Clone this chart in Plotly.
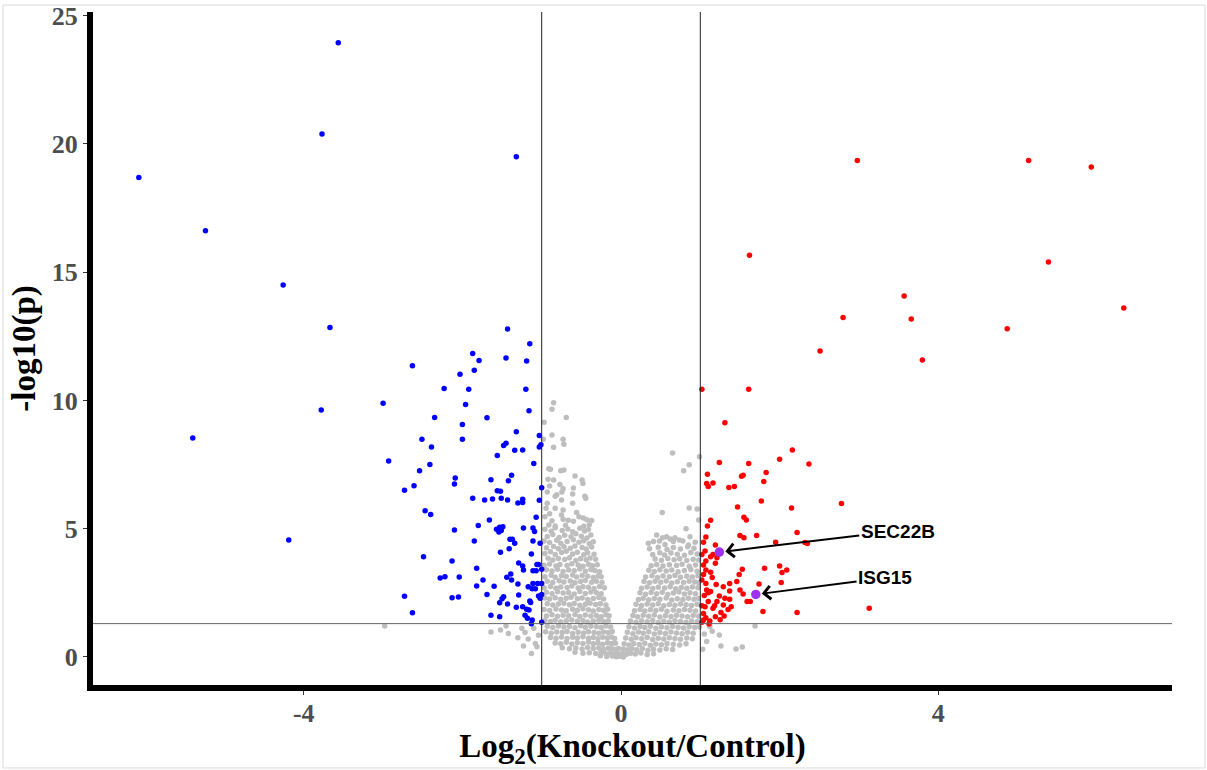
import plotly.graph_objects as go

# ---------------- data ----------------
fc_cut = 1.0          # |log2 FC| cut-off
p_cut_log = 1.30103   # -log10(0.05)

blue_x = [-3.565, -3.77, -1.32, -6.08, -5.24, -4.26, -3.67, -1.43, -5.40, -4.19, -3.78,
          -1.15, -1.87, -1.79, -1.45, -1.19, -2.63, -1.85, -2.03, -2.23, -1.92, -1.20, -3.00,
          -1.96, -1.16, -2.35, -1.69, -2.00, -1.32, -1.03, -2.51, -2.00, -1.01, -1.45, -1.48,
          -2.39, -1.34, -1.24, -1.03, -1.56, -2.93, -1.10, -2.41, -2.54, -1.38, -2.09, -1.64,
          -1.42, -2.10, -2.61, -1.00, -2.73, -1.56, -1.52, -1.87, -1.72, -1.62, -1.51, -1.43,
          -1.30, -1.24, -1.24, -1.03, -2.47, -2.40, -1.07, -1.66, -1.80, -2.10, -1.57, -1.53,
          -1.49, -1.54, -1.51, -1.23, -1.11, -1.09, -1.40, -1.37, -1.34, -1.85, -1.11, -1.02,
          -1.41, -1.52, -1.13, -2.49, -2.13, -1.29, -1.24, -1.06, -1.04, -1.82, -1.23, -1.11,
          -1.07, -1.00, -1.39, -1.44, -2.28, -2.22, -2.04, -1.38, -1.74, -1.82, -1.60, -1.30,
          -1.11, -1.05, -1.00, -1.17, -1.12, -1.08, -1.69, -2.73, -2.13, -2.05, -1.48, -1.50,
          -1.29, -1.04, -1.00, -1.02, -1.53, -1.43, -1.32, -1.24, -1.15, -1.14, -1.19, -1.16,
          -2.63, -1.64, -1.53, -1.21, -1.18, -1.12, -1.13, -1.00]
blue_y = [23.95, 20.39, 19.50, 18.69, 16.62, 14.50, 12.85, 12.79, 8.54, 4.56, 9.63,
          12.21, 11.83, 11.56, 11.66, 11.54, 11.35, 11.18, 11.02, 10.47, 10.44, 10.44, 9.89,
          9.84, 9.60, 9.34, 9.33, 9.06, 8.78, 8.64, 8.49, 8.49, 8.27, 8.33, 8.25,
          8.19, 8.06, 8.07, 8.19, 7.86, 7.64, 7.54, 7.50, 7.26, 7.09, 6.98, 6.91,
          6.87, 6.74, 6.68, 6.60, 6.50, 6.48, 6.46, 6.19, 6.12, 6.16, 6.19, 6.12,
          6.00, 6.15, 6.02, 6.11, 5.70, 5.56, 5.45, 5.34, 5.13, 4.95, 4.98, 5.06,
          5.08, 4.87, 4.93, 5.03, 5.03, 4.89, 4.59, 4.59, 4.43, 4.52, 4.52, 4.43,
          4.22, 4.08, 4.02, 3.91, 3.74, 3.66, 3.55, 3.61, 3.61, 3.46, 3.39, 3.36,
          3.36, 3.42, 3.24, 3.11, 3.08, 3.13, 3.12, 3.00, 3.00, 2.77, 2.76, 2.85,
          2.87, 2.87, 2.87, 2.74, 2.66, 2.66, 2.44, 2.37, 2.31, 2.34, 2.35, 2.27,
          2.42, 2.38, 2.44, 2.29, 2.11, 2.07, 1.94, 1.96, 2.18, 2.12, 1.86, 1.83,
          1.72, 1.63, 1.57, 1.63, 1.51, 1.44, 1.30, 1.35]

red_x = [2.98, 5.14, 5.93, 1.62, 5.39, 3.57, 2.80, 3.66, 6.34, 4.87, 2.51, 3.80,
         1.02, 1.61, 1.31, 2.16, 2.00, 2.37, 1.24, 1.61, 1.83, 1.09, 1.52, 1.54, 1.08, 1.16,
         1.10, 1.36, 1.43, 1.80, 1.77, 2.78, 1.47, 2.15, 1.55, 1.58, 1.13, 1.09, 2.22, 1.50,
         1.55, 1.71, 1.07, 2.32, 2.35, 1.04, 1.19, 1.95, 1.06, 1.16, 1.07, 1.21, 1.13, 1.04,
         1.07, 1.13, 1.04, 1.19, 1.53, 1.49, 1.81, 2.00, 2.09, 2.03, 1.46, 1.37, 1.29, 2.02,
         1.74, 1.07, 1.20, 1.08, 1.13, 1.37, 1.31, 1.37, 1.50, 1.54, 1.24, 1.21, 1.59, 1.63,
         1.29, 1.39, 1.10, 1.06, 1.16, 1.79, 2.22, 3.13, 1.26, 1.19, 1.07, 1.11, 1.04, 1.04,
         1.02, 1.05, 1.02, 1.10, 1.15, 1.02, 1.12, 1.25, 1.02, 1.18, 1.30, 1.35]
red_y = [19.36, 19.36, 19.10, 15.66, 15.40, 14.07, 13.24, 13.18, 13.61, 12.80, 11.93, 11.58,
         10.44, 10.44, 9.13, 8.07, 7.71, 7.52, 7.58, 7.54, 7.19, 7.12, 7.05, 7.09, 6.76, 6.78,
         6.65, 6.61, 6.65, 6.84, 6.08, 5.98, 5.85, 5.81, 5.45, 5.34, 5.33, 5.11, 4.85, 4.74,
         4.65, 4.74, 4.68, 4.46, 4.42, 4.47, 4.37, 4.47, 4.13, 4.00, 3.74, 3.87, 3.91, 3.59,
         3.39, 3.30, 3.22, 3.65, 3.42, 3.22, 3.46, 3.55, 3.39, 3.29, 2.94, 2.87, 2.74, 2.90,
         2.85, 2.87, 2.83, 2.61, 2.55, 2.57, 2.29, 2.25, 2.61, 2.46, 2.38, 2.16, 2.16, 2.16,
         2.03, 1.96, 2.16, 1.96, 1.90, 1.77, 1.73, 1.90, 1.73, 1.57, 1.53, 1.29, 1.70, 1.44,
         3.00, 2.40, 2.00, 2.50, 3.10, 4.00, 1.40, 1.45, 1.35, 2.00, 1.60, 1.85]

# highlighted genes
hl_names = ["SEC22B", "ISG15"]
hl_x = [1.24, 1.70]
hl_y = [4.09, 2.44]
hl_label_x = [3.49, 3.33]
hl_label_y = [4.91, 3.08]

# non-significant genes, left arm of the cloud (x < 0)
gray_left_x = [
    -0.96, -0.88, -0.83, -0.74, -0.67, -0.61, -0.52, -0.46, -0.41,
    -0.93, -0.86, -0.78, -0.71, -0.63, -0.57, -0.50, -0.43, -0.38,
    -0.97, -0.90, -0.81, -0.76, -0.68, -0.60, -0.53, -0.47, -0.40, -0.35,
    -0.94, -0.85, -0.79, -0.72, -0.64, -0.58, -0.49, -0.44, -0.37,
    -0.96, -0.89, -0.83, -0.75, -0.69, -0.61, -0.55, -0.47, -0.42, -0.34,
    -0.92, -0.86, -0.79, -0.71, -0.65, -0.57, -0.51, -0.44, -0.39, -0.32,
    -0.97, -0.90, -0.82, -0.77, -0.68, -0.62, -0.54, -0.48, -0.41, -0.36, -0.30,
    -0.94, -0.87, -0.80, -0.73, -0.66, -0.59, -0.52, -0.45, -0.38, -0.33, -0.27,
    -0.96, -0.88, -0.83, -0.75, -0.69, -0.61, -0.56, -0.49, -0.42, -0.35, -0.29, -0.25,
    -0.93, -0.86, -0.78, -0.72, -0.64, -0.58, -0.51, -0.45, -0.37, -0.31, -0.24,
    -0.97, -0.89, -0.82, -0.76, -0.68, -0.62, -0.54, -0.48, -0.41, -0.34, -0.27, -0.21,
    -0.94, -0.87, -0.80, -0.73, -0.66, -0.59, -0.52, -0.45, -0.38, -0.31, -0.25,
    -0.96, -0.90, -0.83, -0.76, -0.69, -0.63, -0.55, -0.49, -0.42, -0.35, -0.28, -0.22,
    -0.93, -0.86, -0.79, -0.72, -0.65, -0.59, -0.52, -0.45, -0.39, -0.32, -0.26, -0.19,
    -0.97, -0.90, -0.82, -0.75, -0.69, -0.61, -0.55, -0.48, -0.41, -0.35, -0.28, -0.22, -0.17,
    -0.94, -0.87, -0.80, -0.73, -0.66, -0.58, -0.52, -0.45, -0.38, -0.31, -0.25, -0.19, -0.15,
    -0.96, -0.89, -0.83, -0.76, -0.69, -0.62, -0.55, -0.48, -0.42, -0.35, -0.28, -0.22, -0.16,
    -0.93, -0.86, -0.79, -0.72, -0.65, -0.58, -0.51, -0.45, -0.38, -0.31, -0.25, -0.19, -0.13,
    -0.95, -0.88, -0.81, -0.74, -0.68, -0.61, -0.54, -0.47, -0.41, -0.34, -0.28, -0.22, -0.16, -0.11,
    -0.89, -0.82, -0.75, -0.68, -0.61, -0.55, -0.48, -0.41, -0.35, -0.29, -0.23, -0.17, -0.12, -0.08,
    -0.83, -0.76, -0.69, -0.62, -0.55, -0.48, -0.41, -0.35, -0.29, -0.23, -0.17, -0.12, -0.07,
    -0.74, -0.65, -0.57, -0.49, -0.42, -0.35, -0.28, -0.22, -0.16, -0.11, -0.06, -0.03,
    -0.58, -0.48, -0.40, -0.32, -0.25, -0.19, -0.13, -0.08, -0.04, 0.00,
    -0.26, -0.18, -0.11, -0.06, -0.02, 0.03,
]
gray_left_y = [
    4.98, 4.90, 5.04, 4.93, 4.99, 4.88, 5.02, 4.91, 4.97,
    4.70, 4.78, 4.66, 4.75, 4.69, 4.80, 4.71, 4.64, 4.76,
    4.52, 4.46, 4.55, 4.43, 4.50, 4.57, 4.47, 4.53, 4.41, 4.49,
    4.26, 4.31, 4.22, 4.30, 4.24, 4.33, 4.27, 4.21, 4.29,
    4.03, 4.10, 4.00, 4.07, 4.12, 4.02, 4.08, 3.99, 4.06, 4.01,
    3.85, 3.78, 3.84, 3.80, 3.87, 3.76, 3.83, 3.79, 3.86, 3.81,
    3.58, 3.63, 3.55, 3.61, 3.57, 3.64, 3.59, 3.54, 3.62, 3.56, 3.60,
    3.40, 3.35, 3.42, 3.33, 3.39, 3.36, 3.43, 3.34, 3.41, 3.37, 3.32,
    3.13, 3.19, 3.11, 3.17, 3.14, 3.20, 3.12, 3.18, 3.15, 3.10, 3.16, 3.13,
    2.95, 2.90, 2.97, 2.92, 2.96, 2.89, 2.94, 2.98, 2.91, 2.95, 2.90,
    2.70, 2.75, 2.68, 2.73, 2.71, 2.77, 2.69, 2.74, 2.72, 2.67, 2.75, 2.70,
    2.52, 2.47, 2.54, 2.49, 2.51, 2.46, 2.55, 2.48, 2.53, 2.50, 2.47,
    2.30, 2.26, 2.31, 2.25, 2.29, 2.33, 2.27, 2.30, 2.24, 2.28, 2.32, 2.26,
    2.08, 2.03, 2.07, 2.10, 2.04, 2.09, 2.02, 2.06, 2.10, 2.05, 2.08, 2.03,
    1.85, 1.81, 1.87, 1.83, 1.80, 1.86, 1.82, 1.88, 1.84, 1.79, 1.85, 1.82, 1.86,
    1.60, 1.65, 1.59, 1.63, 1.61, 1.66, 1.58, 1.64, 1.60, 1.62, 1.57, 1.65, 1.61,
    1.42, 1.38, 1.43, 1.37, 1.41, 1.44, 1.39, 1.42, 1.36, 1.40, 1.43, 1.38, 1.41,
    1.20, 1.15, 1.21, 1.17, 1.19, 1.14, 1.22, 1.16, 1.20, 1.18, 1.15, 1.21, 1.17,
    0.98, 0.93, 0.97, 0.95, 0.99, 0.92, 0.96, 0.94, 0.98, 0.95, 0.93, 0.97, 0.95, 0.99,
    0.76, 0.73, 0.78, 0.72, 0.77, 0.74, 0.79, 0.73, 0.76, 0.71, 0.77, 0.74, 0.78, 0.72,
    0.55, 0.52, 0.57, 0.51, 0.56, 0.53, 0.58, 0.52, 0.55, 0.50, 0.56, 0.53, 0.54,
    0.36, 0.32, 0.35, 0.31, 0.37, 0.33, 0.35, 0.30, 0.34, 0.32, 0.29, 0.33,
    0.18, 0.15, 0.17, 0.14, 0.18, 0.13, 0.16, 0.12, 0.14, 0.10,
    0.05, 0.02, 0.04, 0.01, 0.03, 0.00,
]

# non-significant genes, right arm of the cloud (x > 0)
gray_right_x = [
    0.36, 0.47, 0.58, 0.66, 0.75, 0.84, 0.92,
    0.40, 0.49, 0.55, 0.63, 0.71, 0.80, 0.88, 0.96,
    0.43, 0.51, 0.59, 0.67, 0.74, 0.83, 0.91, 0.98,
    0.38, 0.45, 0.53, 0.61, 0.70, 0.77, 0.86, 0.94,
    0.35, 0.42, 0.49, 0.57, 0.64, 0.72, 0.80, 0.88, 0.96,
    0.31, 0.39, 0.46, 0.53, 0.61, 0.68, 0.75, 0.83, 0.90, 0.97,
    0.29, 0.36, 0.43, 0.50, 0.57, 0.64, 0.71, 0.79, 0.86, 0.93, 0.98,
    0.26, 0.33, 0.40, 0.47, 0.55, 0.62, 0.69, 0.76, 0.83, 0.90, 0.97,
    0.24, 0.31, 0.38, 0.45, 0.52, 0.59, 0.66, 0.73, 0.80, 0.87, 0.94,
    0.22, 0.28, 0.35, 0.42, 0.49, 0.57, 0.64, 0.71, 0.78, 0.85, 0.92, 0.98,
    0.19, 0.26, 0.33, 0.40, 0.47, 0.54, 0.61, 0.68, 0.75, 0.82, 0.89, 0.96,
    0.17, 0.24, 0.30, 0.37, 0.44, 0.51, 0.58, 0.66, 0.73, 0.80, 0.87, 0.94,
    0.15, 0.21, 0.28, 0.35, 0.42, 0.49, 0.56, 0.63, 0.70, 0.77, 0.84, 0.91, 0.98,
    0.12, 0.19, 0.26, 0.33, 0.40, 0.47, 0.54, 0.61, 0.68, 0.75, 0.82, 0.89, 0.96,
    0.10, 0.17, 0.24, 0.30, 0.37, 0.44, 0.51, 0.58, 0.65, 0.72, 0.79, 0.86, 0.93, 0.99,
    0.08, 0.15, 0.22, 0.28, 0.35, 0.42, 0.49, 0.56, 0.63, 0.70, 0.77, 0.84, 0.91,
    0.06, 0.13, 0.19, 0.26, 0.33, 0.40, 0.47, 0.54, 0.61, 0.68, 0.75, 0.83, 0.90,
    0.04, 0.10, 0.16, 0.23, 0.30, 0.37, 0.44, 0.51, 0.58, 0.66, 0.74, 0.82,
    0.03, 0.08, 0.14, 0.20, 0.27, 0.34, 0.41, 0.49, 0.57, 0.65,
    0.02, 0.07, 0.12, 0.18, 0.25, 0.33, 0.41,
]
gray_right_y = [
    4.22, 4.28, 4.19, 4.27, 4.21, 4.30, 4.24,
    4.00, 4.06, 3.98, 4.05, 4.01, 3.97, 4.07, 4.02,
    3.82, 3.77, 3.84, 3.79, 3.83, 3.76, 3.81, 3.78,
    3.56, 3.61, 3.55, 3.60, 3.57, 3.62, 3.54, 3.59,
    3.38, 3.33, 3.40, 3.35, 3.39, 3.32, 3.37, 3.41, 3.34,
    3.12, 3.17, 3.10, 3.16, 3.13, 3.18, 3.11, 3.15, 3.12, 3.17,
    2.94, 2.89, 2.95, 2.91, 2.96, 2.88, 2.93, 2.90, 2.95, 2.92, 2.89,
    2.68, 2.73, 2.67, 2.72, 2.69, 2.74, 2.66, 2.71, 2.68, 2.73, 2.70,
    2.50, 2.45, 2.51, 2.47, 2.52, 2.44, 2.49, 2.53, 2.46, 2.50, 2.47,
    2.24, 2.29, 2.23, 2.28, 2.25, 2.30, 2.22, 2.27, 2.24, 2.29, 2.25, 2.28,
    2.06, 2.01, 2.07, 2.03, 2.08, 2.00, 2.05, 2.02, 2.07, 2.04, 2.01, 2.06,
    1.80, 1.85, 1.79, 1.84, 1.81, 1.86, 1.78, 1.83, 1.80, 1.85, 1.82, 1.79,
    1.62, 1.57, 1.63, 1.59, 1.64, 1.56, 1.61, 1.58, 1.63, 1.60, 1.57, 1.62, 1.59,
    1.40, 1.35, 1.41, 1.37, 1.42, 1.34, 1.39, 1.36, 1.41, 1.38, 1.35, 1.40, 1.37,
    1.18, 1.13, 1.19, 1.15, 1.20, 1.12, 1.17, 1.14, 1.19, 1.16, 1.13, 1.18, 1.15, 1.17,
    0.96, 0.91, 0.97, 0.93, 0.98, 0.90, 0.95, 0.92, 0.97, 0.94, 0.91, 0.96, 0.93,
    0.74, 0.69, 0.75, 0.71, 0.76, 0.68, 0.73, 0.70, 0.75, 0.72, 0.69, 0.74, 0.71,
    0.52, 0.47, 0.53, 0.49, 0.54, 0.46, 0.51, 0.48, 0.53, 0.50, 0.47, 0.52,
    0.31, 0.27, 0.32, 0.28, 0.33, 0.26, 0.30, 0.27, 0.32, 0.29,
    0.14, 0.11, 0.15, 0.12, 0.16, 0.10, 0.13,
]

# non-significant genes: scattered points outside the dense cloud
gray_extra_x = [-0.85, -0.87, -0.69, -0.97, -0.87, -0.98, -0.73, -0.72, -0.85, -0.91, -0.89,
                -0.76, -0.72, -0.58, -0.92, -0.85, -0.49, -0.48, -0.90, -0.77, -0.73, -0.60,
                -0.61, -0.93, -0.745, -0.81, -0.455, -0.83, -0.445, -0.75, -0.93, -0.61, -0.945,
                -0.83, -0.73, -0.90, -0.56, -0.96, -0.75, -0.53, -0.475, -0.87, -0.73, -0.665,
                -0.60, -0.43, -0.37, -0.91, -0.83, -0.70, -0.47, -0.40,
                0.65, 0.99, 0.86, 0.79, 0.86, 0.96, 0.52, 0.98, 0.82, 0.45, 0.525, 0.575, 0.62,
                0.68, 0.735, 0.78, 0.87, 0.345, 0.41, 0.485, 0.555, 0.66, 0.85, 0.935,
                -2.98, -1.64, -1.42, -1.45, -1.25, -1.21, -1.10, -1.13, -1.08, -1.06, -1.23,
                -1.30, -1.52, -1.04, -1.17,
                1.24, 1.69, 1.12, 1.26, 1.53, 1.45, 1.05, 1.08, 1.15, 1.03]
gray_extra_y = [9.91, 9.66, 9.34, 9.15, 8.65, 8.49, 8.49, 8.29, 8.18, 7.34, 7.32,
                7.26, 7.29, 7.06, 6.93, 6.90, 6.90, 6.76, 6.67, 6.72, 6.56, 6.59,
                6.35, 6.43, 6.43, 6.33, 6.27, 6.27, 6.19, 6.12, 5.99, 5.99, 5.80,
                5.80, 5.73, 5.58, 5.63, 5.47, 5.54, 5.47, 5.42, 5.31, 5.37, 5.33,
                5.29, 5.35, 5.32, 5.15, 5.11, 5.14, 5.10, 5.16,
                7.95, 7.81, 7.49, 7.26, 5.81, 5.77, 5.63, 5.34, 5.00, 4.76, 4.65, 4.69, 4.60,
                4.65, 4.56, 4.52, 4.69, 4.43, 4.50, 4.52, 4.39, 4.50, 4.37, 4.47,
                1.21, 0.97, 0.92, 1.21, 1.12, 0.95, 1.12, 0.14, 0.53, 0.40, 0.43,
                0.75, 1.05, 0.85, 0.70,
                0.86, 1.21, 1.18, 0.43, 0.39, 0.31, 0.90, 0.60, 1.00, 0.30]

x_ticks = [-4, 0, 4]
x_tick_text = ["-4", "0", "4"]
y_ticks = [0, 5, 10, 15, 20, 25]
x_title = "Log<sub>2</sub>(Knockout/Control)"
y_title = "-log10(p)"

# ---------------- build ----------------
gray_x = gray_left_x + gray_right_x + gray_extra_x
gray_y = gray_left_y + gray_right_y + gray_extra_y

fig = go.Figure()
fig.add_trace(go.Scatter(x=gray_x, y=gray_y, mode="markers",
                         marker=dict(color="#BEBEBE", size=5.5, line=dict(width=0)),
                         hoverinfo="skip", showlegend=False))
fig.add_trace(go.Scatter(x=blue_x, y=blue_y, mode="markers",
                         marker=dict(color="#0000FF", size=5.5, line=dict(width=0)),
                         showlegend=False))
fig.add_trace(go.Scatter(x=red_x, y=red_y, mode="markers",
                         marker=dict(color="#FF0000", size=5.5, line=dict(width=0)),
                         showlegend=False))
fig.add_trace(go.Scatter(x=hl_x, y=hl_y, mode="markers", text=hl_names,
                         marker=dict(color="#A030F0", size=9.5, line=dict(width=0)),
                         showlegend=False))

# threshold lines
for xv in (-fc_cut, fc_cut):
    fig.add_shape(type="line", xref="x", yref="paper", x0=xv, x1=xv, y0=0, y1=1,
                  line=dict(color="#222222", width=1), layer="above")
fig.add_shape(type="line", xref="paper", yref="y", x0=0, x1=1, y0=p_cut_log, y1=p_cut_log,
              line=dict(color="#666666", width=1), layer="above")

# light frame around the picture
fig.add_shape(type="rect", xref="paper", yref="paper", x0=-0.0834, x1=1.0306,
              y0=-0.1233, y1=1.0104, line=dict(color="#DADADA", width=1), layer="below")

for name, px, py, lx, ly in zip(hl_names, hl_x, hl_y, hl_label_x, hl_label_y):
    fig.add_annotation(x=px, y=py, xref="x", yref="y", ax=lx, ay=ly, axref="x", ayref="y",
                       text="<b>" + name + "</b>", showarrow=True, arrowhead=4,
                       arrowsize=1.3, arrowwidth=2, arrowcolor="black", standoff=6,
                       font=dict(family="Liberation Sans, Arial", size=19, color="black"))

tickfont = dict(family="Liberation Serif, Times New Roman", size=26, color="#4D4D4D",
                weight="bold")
titlefont = dict(family="Liberation Serif, Times New Roman", size=33, color="black",
                 weight="bold")

fig.update_layout(
    width=1207, height=770,
    margin=dict(l=93, r=35, t=12, b=85),
    paper_bgcolor="white", plot_bgcolor="white",
    showlegend=False,
    xaxis=dict(range=[-6.658, 6.948], tickvals=x_ticks, ticktext=x_tick_text,
               showgrid=False, zeroline=False, automargin=False,
               showline=True, linewidth=6, linecolor="black", ticks="outside", ticklen=4,
               tickwidth=1, tickcolor="#333333", tickfont=tickfont, ticklabelstandoff=-4,
               title=dict(text=x_title, font=titlefont, standoff=8)),
    yaxis=dict(range=[-1.092, 25.146], tickvals=y_ticks, showgrid=False, zeroline=False,
               automargin=False,
               showline=True, linewidth=6, linecolor="black", ticks="outside", ticklen=4,
               tickwidth=1, tickcolor="#333333", tickfont=tickfont,
               title=dict(text=y_title, font=titlefont, standoff=8)),
)

fig.write_html("out.html")
